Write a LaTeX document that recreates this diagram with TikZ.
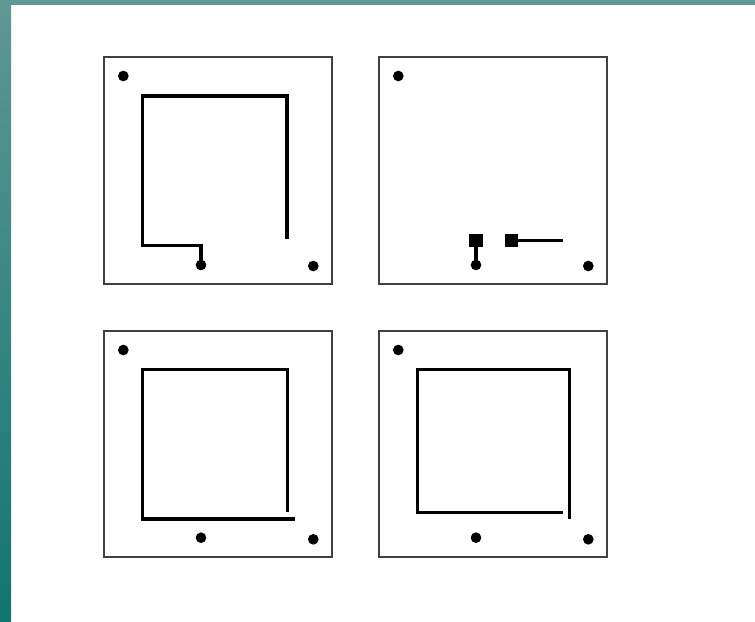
\documentclass[tikz,border=0pt]{standalone}
\begin{document}
\begin{tikzpicture}[x=0.75pt,y=-0.75pt,
  panel/.style={draw=black!75, line width=0.8pt},
  wire/.style={draw=black, line width=2.5pt, line join=miter},
  pin/.style={circle, fill=black, inner sep=0pt, minimum size=8pt},
  pad/.style={rectangle, fill=black, inner sep=0pt, minimum size=9.8pt}]
\definecolor{tealtop}{HTML}{5F9794}
\definecolor{tealbot}{HTML}{12756F}
\useasboundingbox (0,0) rectangle (755,621);
\fill[white] (0,0) rectangle (755,621);
% frame band
\fill[tealtop] (0,0) rectangle (755,5);
\shade[top color=tealtop, bottom color=tealbot] (0,0) rectangle (11,621);
% panels
\draw[panel] (104,57) rectangle (332,284);
\draw[panel] (379,57) rectangle (607,284);
\draw[panel] (104,331) rectangle (332,557);
\draw[panel] (379,331) rectangle (607,557);
% panel 1
\node[pin] (a1) at (123.3,76) {};
\node[pin] (b1) at (201,265) {};
\node[pin] (c1) at (313.3,266) {};
\coordinate (s1) at (287,239);
\draw[wire] (s1) -- (287,96) -- (142.5,96) -- (142.5,245.5) -- (201,245.5) -- (b1.center);
% panel 2
\node[pin] (a2) at (398.3,76) {};
\node[pin] (b2) at (476,265) {};
\node[pin] (c2) at (588.3,266) {};
\node[pad] (p2) at (476,240.5) {};
\node[pad] (q2) at (511.5,240.5) {};
\coordinate (e2) at (563,239);
\draw[wire] (p2.center) -- (b2.center);
\draw[wire] (q2.center) -- (q2.center -| e2);
% panel 3
\node[pin] (a3) at (123.3,350) {};
\node[pin] (b3) at (201,537.7) {};
\node[pin] (c3) at (313.3,539.3) {};
\coordinate (s3) at (287.3,512.3);
\coordinate (e3) at (295,519);
\draw[wire] (s3) -- (287.3,369.3) -- (142.7,369.3) -- (142.7,519) -- (e3);
% panel 4
\node[pin] (a4) at (398.3,350) {};
\node[pin] (b4) at (476,537.7) {};
\node[pin] (c4) at (588.3,539.3) {};
\coordinate (s4) at (562.7,512.3);
\coordinate (e4) at (569.3,519.3);
\draw[wire] (s4) -- (417.7,512.3) -- (417.7,369.3) -- (569.3,369.3) -- (e4);
\end{tikzpicture}
\end{document}
